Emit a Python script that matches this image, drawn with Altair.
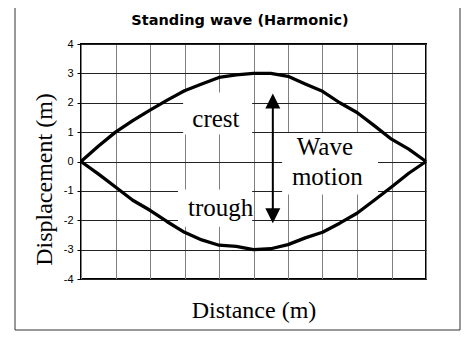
import altair as alt
import pandas as pd

# ---- data ----
distance = [0, 0.5, 1, 1.5, 2, 2.5, 3, 3.5, 4, 4.5, 5,
            5.5, 6, 6.5, 7, 7.5, 8, 8.5, 9, 9.5, 10]
crest = [0, 0.52, 1.0, 1.39, 1.75, 2.09, 2.41, 2.64, 2.86, 2.95, 3.0,
         3.0, 2.9, 2.64, 2.39, 2.0, 1.67, 1.22, 0.76, 0.42, 0]
trough = [0, -0.42, -0.87, -1.32, -1.66, -2.05, -2.41, -2.67, -2.85, -2.89, -3.0,
          -2.97, -2.83, -2.6, -2.41, -2.1, -1.76, -1.32, -0.87, -0.4, 0]
y_ticks = [-4, -3, -2, -1, 0, 1, 2, 3, 4]
x_grid = [0, 1, 2, 3, 4, 5, 6, 7, 8, 9, 10]

# annotation texts and their white boxes (data units)
labels = ["crest", "trough", "Wave", "motion"]
label_x = [3.91, 4.05, 7.07, 7.14]
label_y = [1.19, -1.87, 0.23, -0.79]
box_x = [2.96, 2.81, 5.83]
box_x2 = [4.96, 4.96, 8.61]
box_y = [2.35, -0.95, 0.97]
box_y2 = [0.92, -2.22, -1.12]
arrow_x = [5.56]
arrow_top = [2.0]
arrow_bottom = [-1.8]
head_up_y = [2.06]
head_down_y = [-1.85]

curve_df = pd.DataFrame({
    "distance": distance + distance,
    "disp": crest + trough,
    "part": ["crest"] * len(distance) + ["trough"] * len(distance),
})
box_df = pd.DataFrame({"distance": box_x, "x2": box_x2, "disp": box_y, "y2": box_y2})
text_df = pd.DataFrame({"label": labels, "distance": label_x, "disp": label_y})
shaft_df = pd.DataFrame({"distance": arrow_x, "disp": arrow_top, "y2": arrow_bottom})
up_df = pd.DataFrame({"distance": arrow_x, "disp": head_up_y})
down_df = pd.DataFrame({"distance": arrow_x, "disp": head_down_y})
frame_df = pd.DataFrame({"a": [0]})

SERIF = "'Liberation Serif', 'Times New Roman', serif"
SANS = "'Liberation Sans', Arial, sans-serif"
xs = alt.Scale(domain=[0, 10], nice=False, zero=False)
ys = alt.Scale(domain=[-4, 4], nice=False, zero=False)

x_axis = alt.Axis(values=x_grid, labels=False, ticks=False, domain=False,
                  grid=True, gridColor="#808080", gridWidth=1, gridOpacity=1,
                  title="Distance (m)", titleFont=SERIF, titleFontSize=24,
                  titleFontWeight="normal", titleColor="black",
                  titleBaseline="alphabetic", titleY=38, zindex=0)
y_axis = alt.Axis(values=y_ticks, labelExpr="'' + datum.value",
                  labelFont=SANS, labelFontSize=11, labelColor="black",
                  labelPadding=4, tickSize=4, tickColor="black", tickWidth=1,
                  domain=False, grid=True, gridColor="#222222", gridWidth=1, gridOpacity=1,
                  title="Displacement (m)", titleFont=SERIF, titleFontSize=24,
                  titleFontWeight="normal", titleColor="black",
                  titleBaseline="alphabetic", titleAngle=270, titleAlign="center",
                  titleX=-30, titleY=135, zindex=0)

X = alt.X("distance:Q", scale=xs, axis=x_axis)
Y = alt.Y("disp:Q", scale=ys, axis=y_axis)

boxes = alt.Chart(box_df).mark_rect(color="white").encode(x=X, x2="x2", y=Y, y2="y2")

curves = alt.Chart(curve_df).mark_line(color="black", strokeWidth=3.3,
                                       strokeJoin="round").encode(
    x=X, y=Y, detail="part:N")

shaft = alt.Chart(shaft_df).mark_rule(color="black", strokeWidth=2).encode(
    x=X, y=Y, y2="y2")
head_up = alt.Chart(up_df).mark_point(shape="M0,-1L1,1L-1,1Z", filled=True,
                                      color="black", opacity=1, size=225).encode(x=X, y=Y)
head_down = alt.Chart(down_df).mark_point(shape="M0,1L1,-1L-1,-1Z", filled=True,
                                          color="black", opacity=1, size=225).encode(x=X, y=Y)

texts = alt.Chart(text_df).mark_text(font=SERIF, fontSize=25, color="black",
                                     align="center", baseline="alphabetic").encode(
    x=X, y=Y, text="label:N")

frame = alt.Chart(frame_df).mark_rect(filled=False, stroke="#333333",
                                      strokeWidth=1).encode(
    x=alt.value(-66), x2=alt.value(379), y=alt.value(-40), y2=alt.value(286))

chart = alt.layer(boxes, curves, shaft, head_up, head_down, texts, frame).properties(
    width=345, height=235,
    title=alt.TitleParams("Standing wave (Harmonic)", font="'DejaVu Sans', sans-serif",
                          fontSize=14.5, fontWeight="bold", color="black", anchor="middle",
                          baseline="alphabetic", dx=-13.5, dy=36, offset=0),
    autosize=alt.AutoSizeParams(type="none"),
    padding={"left": 73, "top": 36, "right": 35, "bottom": 52},
    background="white",
).configure_view(stroke="black", strokeWidth=2)

chart.save("out.html", embed_options={"renderer": "svg", "actions": False})
